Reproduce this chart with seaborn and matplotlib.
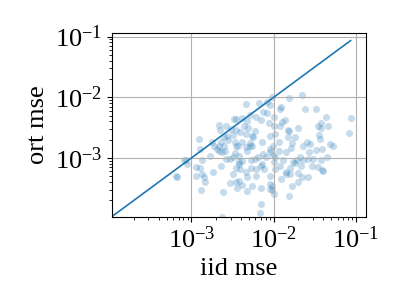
import numpy as np
import pandas as pd
import matplotlib
matplotlib.use("Agg")
import matplotlib.pyplot as plt
import seaborn as sns

# values, stored as log10 of the mse
iid_log10 = [
    -2.02, -1.66, -1.81, -2.34, -2.18, -2.08, -2.04, -1.91, -1.92, -1.62,
    -1.48, -2.13, -2.08, -2.29, -2.22, -2.00, -1.86, -1.90, -1.37, -1.06,
    -2.46, -2.48, -2.39, -2.32, -2.06, -2.16, -2.67, -2.58, -2.36, -2.00,
    -1.92, -1.70, -1.43, -1.46, -1.42, -1.34, -2.52, -2.46, -2.65, -2.31,
    -2.23, -2.41, -2.34, -1.83, -1.82, -2.26, -2.25, -2.05, -1.98, -2.50,
    -2.57, -2.61, -2.91, -1.74, -1.83, -1.45, -1.44, -1.09, -2.55, -2.64,
    -2.75, -2.47, -2.39, -2.29, -2.14, -1.94, -1.78, -1.59, -1.56, -2.73,
    -2.90, -2.66, -2.61, -2.46, -2.43, -2.34, -2.29, -2.26, -2.01, -2.05,
    -1.64, -1.32, -1.28, -2.69, -2.66, -2.63, -2.59, -2.78, -2.47, -2.50,
    -2.42, -2.32, -2.13, -2.19, -2.05, -2.01, -1.94, -1.85, -1.79, -1.57,
    -1.41, -1.48, -3.07, -3.05, -3.09, -2.95, -2.87, -2.58, -2.53, -2.38,
    -2.42, -2.42, -2.28, -2.23, -2.14, -2.15, -2.09, -1.99, -2.00, -1.89,
    -1.77, -1.72, -1.68, -1.65, -1.58, -1.52, -1.42, -1.35, -2.90, -2.74,
    -2.64, -2.46, -2.41, -2.34, -2.28, -2.22, -2.12, -1.98, -1.92, -1.85,
    -1.80, -1.74, -1.67, -1.54, -1.46, -1.41, -1.40, -3.19, -3.18, -2.94,
    -2.85, -2.49, -2.33, -2.21, -2.04, -1.91, -1.85, -1.80, -1.70, -1.58,
    -2.87, -2.83, -2.46, -2.42, -2.53, -2.38, -2.45, -2.26, -2.15, -2.04,
    -2.02, -2.05, -2.02, -2.00, -1.78, -1.71, -1.66, -2.88, -2.62, -2.32,
    -1.81, -2.15, -2.17, -2.63,
]
ort_log10 = [
    -1.99, -1.96, -2.02, -2.11, -2.09, -2.08, -2.13, -2.16, -2.19, -2.20,
    -2.19, -2.25, -2.26, -2.29, -2.32, -2.32, -2.37, -2.40, -2.32, -2.34,
    -2.36, -2.36, -2.34, -2.39, -2.43, -2.37, -2.46, -2.47, -2.47, -2.47,
    -2.48, -2.51, -2.43, -2.48, -2.50, -2.47, -2.52, -2.54, -2.54, -2.51,
    -2.55, -2.57, -2.61, -2.54, -2.55, -2.64, -2.65, -2.64, -2.61, -2.62,
    -2.64, -2.65, -2.69, -2.66, -2.66, -2.62, -2.69, -2.59, -2.70, -2.73,
    -2.74, -2.73, -2.74, -2.75, -2.73, -2.74, -2.75, -2.73, -2.77, -2.80,
    -2.86, -2.81, -2.81, -2.80, -2.80, -2.82, -2.80, -2.80, -2.80, -2.85,
    -2.80, -2.77, -2.80, -2.86, -2.88, -2.90, -2.88, -2.97, -2.92, -2.98,
    -2.97, -2.88, -2.94, -2.98, -2.90, -2.96, -2.89, -2.90, -2.83, -2.90,
    -2.86, -2.87, -3.03, -3.10, -3.04, -3.15, -3.03, -3.01, -3.02, -3.05,
    -3.07, -3.10, -3.03, -3.02, -3.10, -3.13, -2.99, -2.99, -3.07, -3.03,
    -3.07, -3.04, -2.99, -3.03, -3.02, -3.01, -3.03, -2.99, -3.17, -3.24,
    -3.14, -3.16, -3.19, -3.23, -3.16, -3.18, -3.19, -3.18, -3.14, -3.23,
    -3.17, -3.09, -3.14, -3.14, -3.15, -3.20, -3.21, -3.29, -3.32, -3.30,
    -3.32, -3.27, -3.31, -3.29, -3.29, -3.34, -3.27, -3.26, -3.25, -3.31,
    -3.26, -3.40, -3.40, -3.38, -3.42, -3.45, -3.49, -3.47, -3.49, -3.43,
    -3.46, -3.52, -3.53, -3.60, -3.46, -3.40, -3.31, -3.53, -3.57, -3.55,
    -3.62, -3.76, -3.90, -3.98,
]

# y = x reference line
diag = [1.0e-4, 0.086]

x_limits = (1.08e-4, 0.132)
y_limits = (1.08e-4, 0.115)

df = pd.DataFrame({
    "iid": 10 ** np.array(iid_log10),
    "ort": 10 ** np.array(ort_log10),
})

plt.rcParams["font.family"] = "serif"
plt.rcParams["font.serif"] = ["Liberation Serif", "STIXGeneral", "DejaVu Serif"]
plt.rcParams["mathtext.fontset"] = "stix"
plt.rcParams["font.size"] = 19

fig = plt.figure(figsize=(4.07, 3.05), dpi=100)
ax = fig.add_axes([0.275, 0.29, 0.624, 0.602])

sns.scatterplot(data=df, x="iid", y="ort", ax=ax, color="C0", alpha=0.25, s=26, linewidth=0)
sns.lineplot(x=diag, y=diag, ax=ax, color="C0", linewidth=1.2)

ax.set_xscale("log")
ax.set_yscale("log")
ax.set_xlim(*x_limits)
ax.set_ylim(*y_limits)
ax.set_xlabel("iid mse")
ax.set_ylabel("ort mse")
ax.grid(True)

plt.savefig("out.png", dpi=100)
plt.close()
